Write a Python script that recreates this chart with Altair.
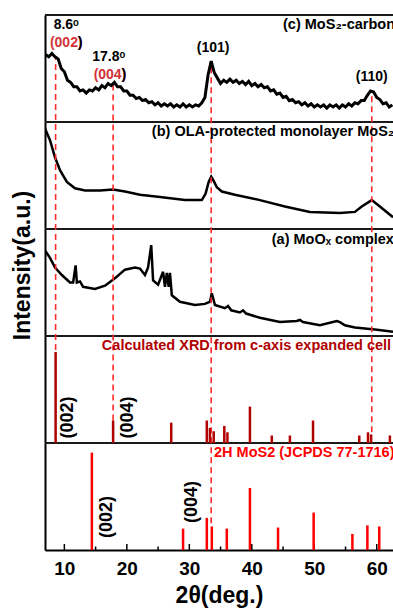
import altair as alt
import pandas as pd

# ---------------- data (relative intensity within each panel, 0..1) ----------------
# (c) MoS2-carbon (noisy scan, read every 0.5 deg)
c_deg = [6.9, 7.0, 7.5, 8.0, 8.5, 9.0, 9.5, 10.0, 10.5, 11.0, 11.5, 12.0, 12.5, 13.0, 13.5,
         14.0, 14.5, 15.0, 15.5, 16.0, 16.5, 17.0, 17.5, 18.0, 18.5, 19.0, 19.5, 20.0, 20.5,
         21.0, 21.5, 22.0, 22.5, 23.0, 23.5, 24.0, 24.5, 25.0, 25.5, 26.0, 26.5, 27.0, 27.5,
         28.0, 28.5, 29.0, 29.5, 30.0, 30.5, 31.0, 31.5, 32.0, 32.5, 33.0, 33.5, 34.0, 34.5,
         35.0, 35.5, 36.0, 36.5, 37.0, 37.5, 38.0, 38.5, 39.0, 39.5, 40.0, 40.5, 41.0, 41.5,
         42.0, 42.5, 43.0, 43.5, 44.0, 44.5, 45.0, 45.5, 46.0, 46.5, 47.0, 47.5, 48.0, 48.5,
         49.0, 49.5, 50.0, 50.5, 51.0, 51.5, 52.0, 52.5, 53.0, 53.5, 54.0, 54.5, 55.0, 55.5,
         56.0, 56.5, 57.0, 57.5, 58.0, 58.5, 59.0, 59.5, 60.0, 60.5, 61.0, 61.5, 62.0, 62.5]
c_int = [0.62, 0.63, 0.61, 0.64, 0.61, 0.59, 0.50, 0.47, 0.39, 0.37, 0.33, 0.33, 0.29, 0.30, 0.27,
         0.30, 0.29, 0.32, 0.30, 0.34, 0.32, 0.36, 0.34, 0.37, 0.33, 0.33, 0.29, 0.29, 0.25,
         0.25, 0.22, 0.23, 0.20, 0.21, 0.18, 0.19, 0.16, 0.18, 0.15, 0.17, 0.15, 0.17, 0.14,
         0.16, 0.14, 0.17, 0.14, 0.16, 0.14, 0.16, 0.15, 0.18, 0.23, 0.44, 0.57, 0.46, 0.41,
         0.36, 0.39, 0.37, 0.40, 0.37, 0.39, 0.36, 0.38, 0.35, 0.38, 0.34, 0.36, 0.33, 0.35,
         0.32, 0.33, 0.29, 0.30, 0.26, 0.27, 0.23, 0.24, 0.20, 0.21, 0.18, 0.19, 0.16, 0.18,
         0.15, 0.17, 0.14, 0.16, 0.14, 0.16, 0.13, 0.16, 0.14, 0.16, 0.13, 0.16, 0.14, 0.17,
         0.15, 0.18, 0.17, 0.20, 0.20, 0.25, 0.29, 0.28, 0.23, 0.21, 0.17, 0.18, 0.14, 0.16]

# (b) OLA-protected monolayer MoS2
b_deg = [6.9, 7.7, 8.5, 9.3, 10.4, 11.7, 13.3, 15.7, 17.8, 19.7, 22.1, 25.3, 29.3, 32.0,
         32.6, 33.1, 33.5, 33.9, 34.4, 35.2, 37.3, 41.3, 45.3, 49.3, 54.1, 56.5, 57.6, 59.2,
         60.5, 62.6]
b_int = [0.94, 0.83, 0.67, 0.55, 0.44, 0.38, 0.36, 0.36, 0.37, 0.35, 0.32, 0.30, 0.27, 0.27,
         0.33, 0.44, 0.49, 0.45, 0.39, 0.35, 0.32, 0.27, 0.21, 0.16, 0.15, 0.16, 0.21, 0.27,
         0.21, 0.11]

# (a) MoOx complex
a_deg = [6.9, 7.7, 8.5, 9.6, 10.9, 11.4, 11.8, 12.0, 12.5, 13.0, 14.9, 16.5, 18.1, 19.7,
         21.3, 22.1, 22.9, 23.4, 23.9, 24.2, 25.0, 25.8, 26.1, 26.4, 26.7, 26.9, 27.2, 28.5,
         30.9, 32.5, 33.3, 33.6, 34.1, 35.7, 36.2, 36.7, 38.1, 38.6, 39.1, 41.3, 44.5, 47.2,
         47.7, 48.2, 50.9, 53.6, 54.1, 54.9, 56.5, 59.7, 62.6]
a_int = [0.80, 0.73, 0.64, 0.57, 0.50, 0.50, 0.66, 0.50, 0.51, 0.46, 0.44, 0.47, 0.54, 0.62,
         0.64, 0.63, 0.57, 0.64, 0.85, 0.52, 0.48, 0.60, 0.46, 0.59, 0.46, 0.59, 0.38, 0.32,
         0.29, 0.30, 0.32, 0.40, 0.29, 0.26, 0.28, 0.24, 0.22, 0.24, 0.21, 0.17, 0.13, 0.14,
         0.15, 0.13, 0.10, 0.14, 0.13, 0.10, 0.08, 0.06, 0.04]

# Calculated XRD from c-axis expanded cell (stick pattern)
calc_pos = [8.6, 17.8, 27.1, 32.8, 33.3, 33.9, 35.6, 36.1, 39.7, 43.2, 46.1, 49.8, 57.2, 58.6, 59.1, 62.1]
calc_h = [0.85, 0.21, 0.19, 0.21, 0.14, 0.11, 0.16, 0.10, 0.34, 0.07, 0.07, 0.21, 0.07, 0.10, 0.08, 0.07]

# 2H MoS2 (JCPDS 77-1716)
ref_pos = [14.4, 29.0, 32.8, 33.6, 36.0, 39.7, 44.2, 49.9, 56.1, 58.5, 60.4]
ref_h = [0.91, 0.20, 0.30, 0.22, 0.20, 0.58, 0.21, 0.35, 0.15, 0.23, 0.22]

# guide lines (2θ, from/to in stacked panel units)
guide_pos = [8.6, 17.8, 33.5, 59.2]
guide_top = [4.60, 4.35, 4.56, 4.30]
guide_bot = [1.87, 1.21, 0.25, 1.10]

panel_offset = {"c": 4, "b": 3, "a": 2, "calc": 1, "ref": 0}
panel_edges = [1, 2, 3, 4, 5]

major_ticks = [10, 20, 30, 40, 50, 60]
minor_ticks = [15, 25, 35, 45, 55]

# annotations
title_text = ["(c) MoS₂-carbon composite", "(b) OLA-protected monolayer MoS₂", "(a) MoOₓ complex"]
title_x = [45.0, 24.0, 43.2]
title_y = [4.907, 3.907, 2.897]

peak_text = ["8.6ᵒ", "17.8ᵒ", "(101)", "(110)"]
peak_x = [10.3, 17.1, 33.8, 59.2]
peak_y = [4.907, 4.607, 4.69, 4.42]

red_text = ["(002)", "(004)"]
red_x = [10.3, 17.3]
red_y = [4.735, 4.44]

set_title = ["Calculated XRD from c-axis expanded cell", "2H MoS2 (JCPDS 77-1716)"]
set_x = [16.0, 33.95]
set_y = [1.907, 0.907]
set_color = ["#b00000", "#ff0000"]

rot_text = ["(002)", "(004)", "(002)", "(004)"]
rot_x = [10.6, 20.2, 16.8, 30.4]
rot_y = [1.238, 1.238, 0.308, 0.449]

# ---------------- tables ----------------
H = 535
W = 348
MAJOR_LEN = 6 / H * 5
MINOR_LEN = 3.5 / H * 5

lines = pd.concat([
    pd.DataFrame({"deg": a_deg, "v": [panel_offset["a"] + v for v in a_int], "s": "a"}),
    pd.DataFrame({"deg": b_deg, "v": [panel_offset["b"] + v for v in b_int], "s": "b"}),
])
line_c = pd.DataFrame({"deg": c_deg, "v": [panel_offset["c"] + v for v in c_int]})
calc = pd.DataFrame({"deg": calc_pos, "y0": panel_offset["calc"],
                     "y1": [panel_offset["calc"] + h for h in calc_h]})
ref = pd.DataFrame({"deg": ref_pos, "y0": panel_offset["ref"],
                    "y1": [panel_offset["ref"] + h for h in ref_h]})
guides = pd.DataFrame({"deg": guide_pos, "y0": guide_bot, "y1": guide_top})
edges = pd.DataFrame({"y": panel_edges})
ticks = pd.concat([
    pd.DataFrame({"deg": major_ticks, "y0": 0.0, "y1": MAJOR_LEN}),
    pd.DataFrame({"deg": minor_ticks, "y0": 0.0, "y1": MINOR_LEN}),
])
titles = pd.DataFrame({"t": title_text, "x": title_x, "y": title_y})
peaks = pd.DataFrame({"t": peak_text, "x": peak_x, "y": peak_y})
reds = pd.DataFrame({"t": red_text, "x": red_x, "y": red_y})
sets = pd.DataFrame({"t": set_title, "x": set_x, "y": set_y, "c": set_color})
rots = pd.DataFrame({"t": rot_text, "x": rot_x, "y": rot_y})

FONT = "Liberation Sans"
xs = alt.Scale(domain=[6.9, 62.6], nice=False, zero=False)
ys = alt.Scale(domain=[0, 5], nice=False, zero=False)

main_x_axis = alt.Axis(values=major_ticks, ticks=False, tickSize=0, labelPadding=9,
                       labelFontSize=19, labelFontWeight="bold", labelColor="black",
                       domainWidth=2, domainColor="black", grid=False,
                       title="2θ(deg.)", titleFontSize=23, titleFontWeight="bold",
                       titlePadding=6, titleColor="black", format="d")
y_axis = alt.Axis(labels=False, ticks=False, grid=False, domainWidth=2, domainColor="black",
                  title="Intensity(a.u.)", titleFontSize=23, titleFontWeight="bold",
                  titleColor="black", titleX=-11, titleY=250, titleAngle=270,
                  titleAlign="center", titleBaseline="bottom")

base_x_none = alt.X("deg:Q", scale=xs, axis=None)


def txt_xy():
    return dict(x=alt.X("x:Q", scale=xs, axis=None), y=alt.Y("y:Q", scale=ys, axis=None))


ab_layer = alt.Chart(lines).mark_line(color="black", strokeWidth=2.5, clip=True).encode(
    x=alt.X("deg:Q", scale=xs, axis=main_x_axis),
    y=alt.Y("v:Q", scale=ys, axis=y_axis),
    detail="s:N",
)
c_layer = alt.Chart(line_c).mark_line(color="black", strokeWidth=3, clip=True).encode(
    x=base_x_none, y=alt.Y("v:Q", scale=ys, axis=None)
)
edge_layer = alt.Chart(edges).mark_rule(color="#1a1a1a", strokeWidth=2).encode(
    y=alt.Y("y:Q", scale=ys, axis=None)
)
tick_layer = alt.Chart(ticks).mark_rule(color="black", strokeWidth=1.5).encode(
    x=base_x_none, y=alt.Y("y0:Q", scale=ys, axis=None), y2="y1:Q"
)
guide_layer = alt.Chart(guides).mark_rule(color="#ff2a2a", strokeWidth=1.6,
                                          strokeDash=[6, 4]).encode(
    x=base_x_none, y=alt.Y("y0:Q", scale=ys, axis=None), y2="y1:Q"
)
calc_layer = alt.Chart(calc).mark_rule(color="#b00000", strokeWidth=2.5).encode(
    x=base_x_none, y=alt.Y("y0:Q", scale=ys, axis=None), y2="y1:Q"
)
ref_layer = alt.Chart(ref).mark_rule(color="#ff0000", strokeWidth=2.5).encode(
    x=base_x_none, y=alt.Y("y0:Q", scale=ys, axis=None), y2="y1:Q"
)
title_layer = alt.Chart(titles).mark_text(font=FONT, fontSize=14.5, fontWeight="bold",
                                          color="black", baseline="middle", align="left",
                                          clip=True).encode(text="t:N", **txt_xy())
peak_layer = alt.Chart(peaks).mark_text(font=FONT, fontSize=14, fontWeight="bold",
                                        color="black", baseline="middle",
                                        align="center").encode(text="t:N", **txt_xy())
red_layer = alt.Chart(reds).mark_text(font=FONT, fontSize=14, fontWeight="bold",
                                      color="#d13438", baseline="middle",
                                      align="center").encode(text="t:N", **txt_xy())
paren_layer = alt.Chart(reds).mark_text(font=FONT, fontSize=14, fontWeight="bold",
                                        color="black", baseline="middle", align="right",
                                        dx=16.3).encode(text=alt.value(")"), **txt_xy())
set_layer = alt.Chart(sets).mark_text(font=FONT, fontSize=14.5, fontWeight="bold",
                                      baseline="middle", align="left", clip=True).encode(
    text="t:N", color=alt.Color("c:N", scale=None), **txt_xy()
)
rot_layer = alt.Chart(rots).mark_text(font=FONT, fontSize=18, fontWeight="bold", color="black",
                                      baseline="middle", align="center", angle=270).encode(
    text="t:N", **txt_xy()
)

chart = alt.layer(
    ab_layer, edge_layer, tick_layer, guide_layer, calc_layer, ref_layer, c_layer,
    title_layer, peak_layer, red_layer, paren_layer, set_layer, rot_layer,
).resolve_axis(x="independent", y="independent").properties(
    width=W, height=H,
    autosize=alt.AutoSizeParams(type="none"),
    padding={"left": 45, "top": 15, "right": 0, "bottom": 60},
).configure_view(strokeWidth=0).configure(font=FONT, background="white")

chart.save("out.html", embed_options={"renderer": "svg", "actions": False})
